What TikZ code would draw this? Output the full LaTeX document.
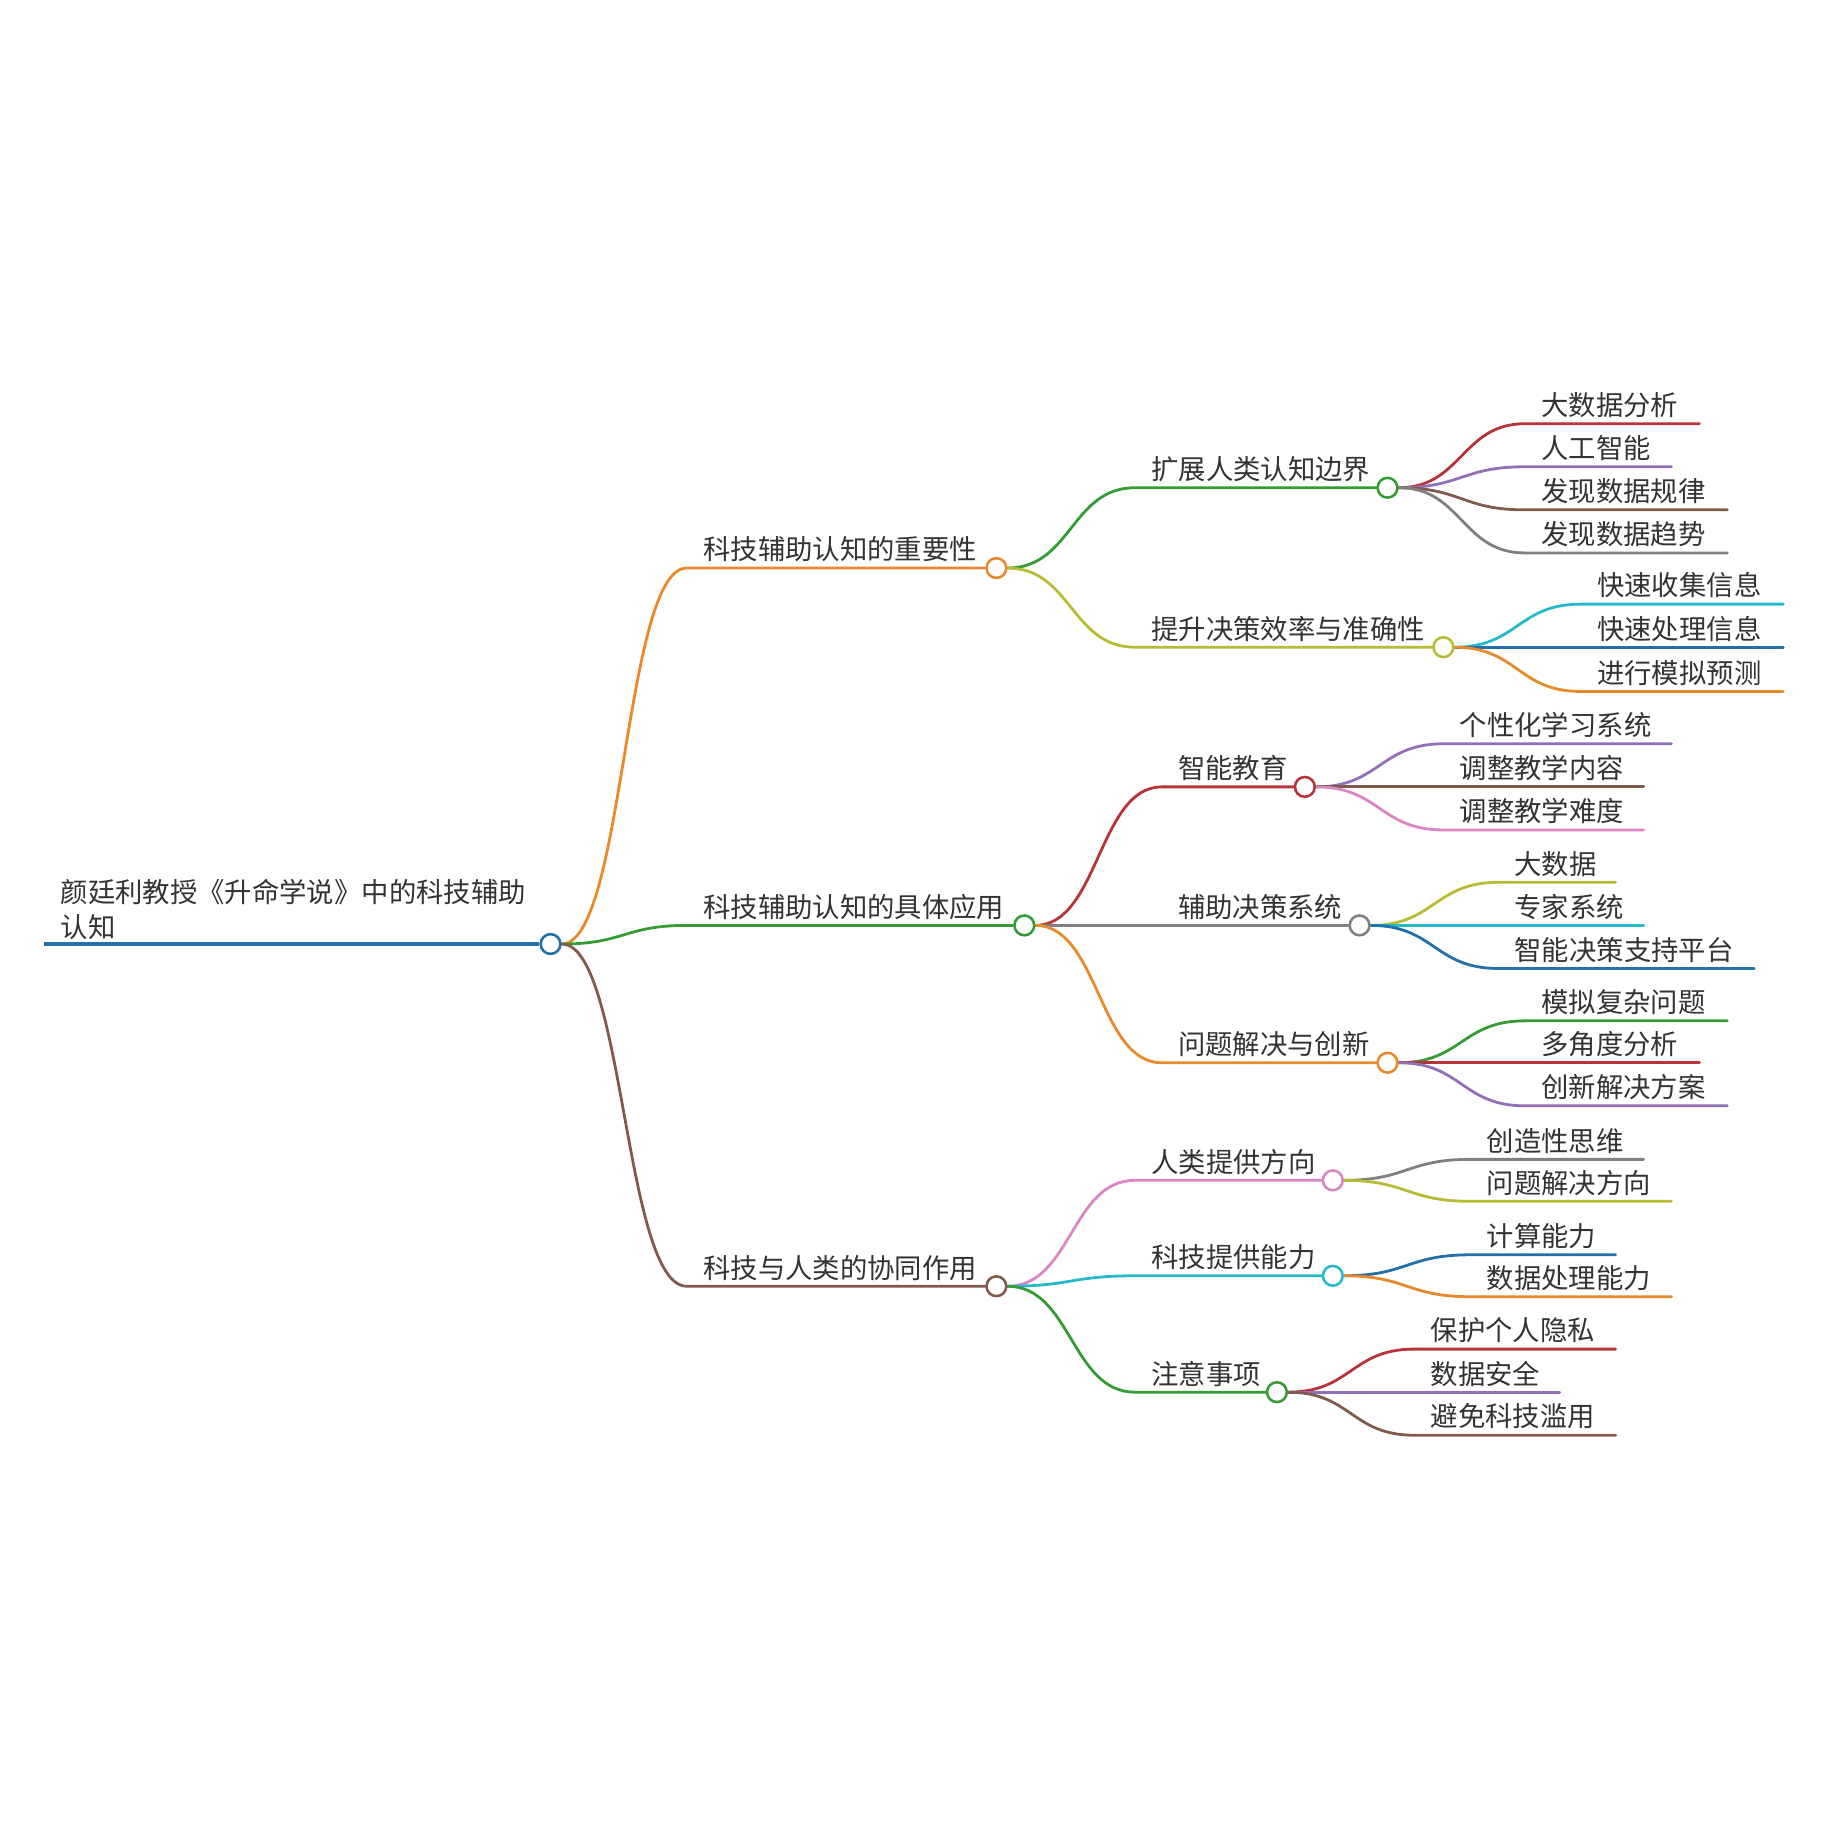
\documentclass[tikz,border=0pt]{standalone}
\usepackage{fontspec}
\setmainfont{Noto Sans CJK SC}
\usetikzlibrary{calc}
\definecolor{cblue}{HTML}{2170A8}
\definecolor{corange}{HTML}{E8892B}
\definecolor{cgreen}{HTML}{359B35}
\definecolor{cred}{HTML}{B8323A}
\definecolor{cpurple}{HTML}{9170B8}
\definecolor{cbrown}{HTML}{825A4C}
\definecolor{cpink}{HTML}{DD84C4}
\definecolor{cgray}{HTML}{808080}
\definecolor{colive}{HTML}{B8BC32}
\definecolor{ccyan}{HTML}{26B9CB}
\definecolor{ctext}{HTML}{333333}
\pgfdeclarelayer{fg}
\pgfsetlayers{main,fg}
\tikzset{
  conn/.style={line width=2.4pt, line cap=round},
  dot/.style={circle, minimum size=17pt, inner sep=0pt, fill=white, line width=2.2pt},
  lbl/.style={text=ctext, inner sep=0pt, anchor=west, font=\fontsize{23.5}{28}\selectfont},
}
% #1 name, #2 parent, #3 start x, #4 y, #5 circle x, #6 colour, #7 text
\newcommand\midbr[7]{%
  \begin{pgfonlayer}{fg}\node[dot,draw=#6] (#1) at (#5,#4) {};\end{pgfonlayer}
  \coordinate (#1s) at (#3,#4);
  \coordinate (#1m) at ($(#2.east)!0.5!(#1s)$);
  \draw[conn,#6] (#2.east) .. controls (#1m |- #2.east) and (#1m |- #1s) .. (#1s) -- (#1.west);
  \node[lbl] (#1t) at ([xshift=14pt,yshift=16pt]#1s) {#7};
}
% #1 name, #2 parent, #3 start x, #4 y, #5 end x, #6 colour, #7 text
\newcommand\leafbr[7]{%
  \coordinate (#1s) at (#3,#4);
  \coordinate (#1e) at (#5,#4);
  \coordinate (#1m) at ($(#2.east)!0.5!(#1s)$);
  \draw[conn,#6] (#2.east) .. controls (#1m |- #2.east) and (#1m |- #1s) .. (#1s) -- (#1e);
  \node[lbl] (#1t) at ([xshift=14pt,yshift=16pt]#1s) {#7};
}
\begin{document}
\begin{tikzpicture}[x=1pt,y=-1pt]
\useasboundingbox[fill=white] (0,0) rectangle (1567,1567);
% root
\begin{pgfonlayer}{fg}\node[dot,draw=cblue] (root) at (473,811) {};\end{pgfonlayer}
\coordinate (r0) at (38,811);
\draw[conn,cblue,line width=2.8pt,line cap=butt] (r0) -- (root.west);
\node[lbl,align=left,font=\fontsize{23.5}{30}\selectfont] (roott) at (52,781) {颜廷利教授《升命学说》中的科技辅助\\认知};
% level 1
\midbr{A}{root}{590}{488}{856}{corange}{科技辅助认知的重要性}
\midbr{B}{root}{590}{795}{880}{cgreen}{科技辅助认知的具体应用}
\midbr{C}{root}{590}{1105}{856}{cbrown}{科技与人类的协同作用}
% level 2
\midbr{A1}{A}{975}{419}{1192}{cgreen}{扩展人类认知边界}
\midbr{A2}{A}{975}{556}{1240}{colive}{提升决策效率与准确性}
\midbr{B1}{B}{998}{676}{1121}{cred}{智能教育}
\midbr{B2}{B}{998}{795}{1168}{cgray}{辅助决策系统}
\midbr{B3}{B}{998}{913}{1192}{corange}{问题解决与创新}
\midbr{C1}{C}{975}{1014}{1145}{cpink}{人类提供方向}
\midbr{C2}{C}{975}{1096}{1145}{ccyan}{科技提供能力}
\midbr{C3}{C}{975}{1196}{1097}{cgreen}{注意事项}
% leaves
\leafbr{A1a}{A1}{1310}{364}{1460}{cred}{大数据分析}
\leafbr{A1b}{A1}{1310}{401}{1436}{cpurple}{人工智能}
\leafbr{A1c}{A1}{1310}{438}{1484}{cbrown}{发现数据规律}
\leafbr{A1d}{A1}{1310}{475}{1484}{cgray}{发现数据趋势}
\leafbr{A2a}{A2}{1358}{519}{1532}{ccyan}{快速收集信息}
\leafbr{A2b}{A2}{1358}{556}{1532}{cblue}{快速处理信息}
\leafbr{A2c}{A2}{1358}{594}{1532}{corange}{进行模拟预测}
\leafbr{B1a}{B1}{1240}{639}{1436}{cpurple}{个性化学习系统}
\leafbr{B1b}{B1}{1240}{676}{1412}{cbrown}{调整教学内容}
\leafbr{B1c}{B1}{1240}{713}{1412}{cpink}{调整教学难度}
\leafbr{B2a}{B2}{1287}{758}{1388}{colive}{大数据}
\leafbr{B2b}{B2}{1287}{795}{1412}{ccyan}{专家系统}
\leafbr{B2c}{B2}{1287}{832}{1507}{cblue}{智能决策支持平台}
\leafbr{B3a}{B3}{1310}{877}{1484}{cgreen}{模拟复杂问题}
\leafbr{B3b}{B3}{1310}{913}{1460}{cred}{多角度分析}
\leafbr{B3c}{B3}{1310}{950}{1484}{cpurple}{创新解决方案}
\leafbr{C1a}{C1}{1263}{996}{1412}{cgray}{创造性思维}
\leafbr{C1b}{C1}{1263}{1032}{1436}{colive}{问题解决方向}
\leafbr{C2a}{C2}{1263}{1078}{1388}{cblue}{计算能力}
\leafbr{C2b}{C2}{1263}{1114}{1436}{corange}{数据处理能力}
\leafbr{C3a}{C3}{1215}{1159}{1388}{cred}{保护个人隐私}
\leafbr{C3b}{C3}{1215}{1196}{1340}{cpurple}{数据安全}
\leafbr{C3c}{C3}{1215}{1233}{1388}{cbrown}{避免科技滥用}
\end{tikzpicture}
\end{document}
